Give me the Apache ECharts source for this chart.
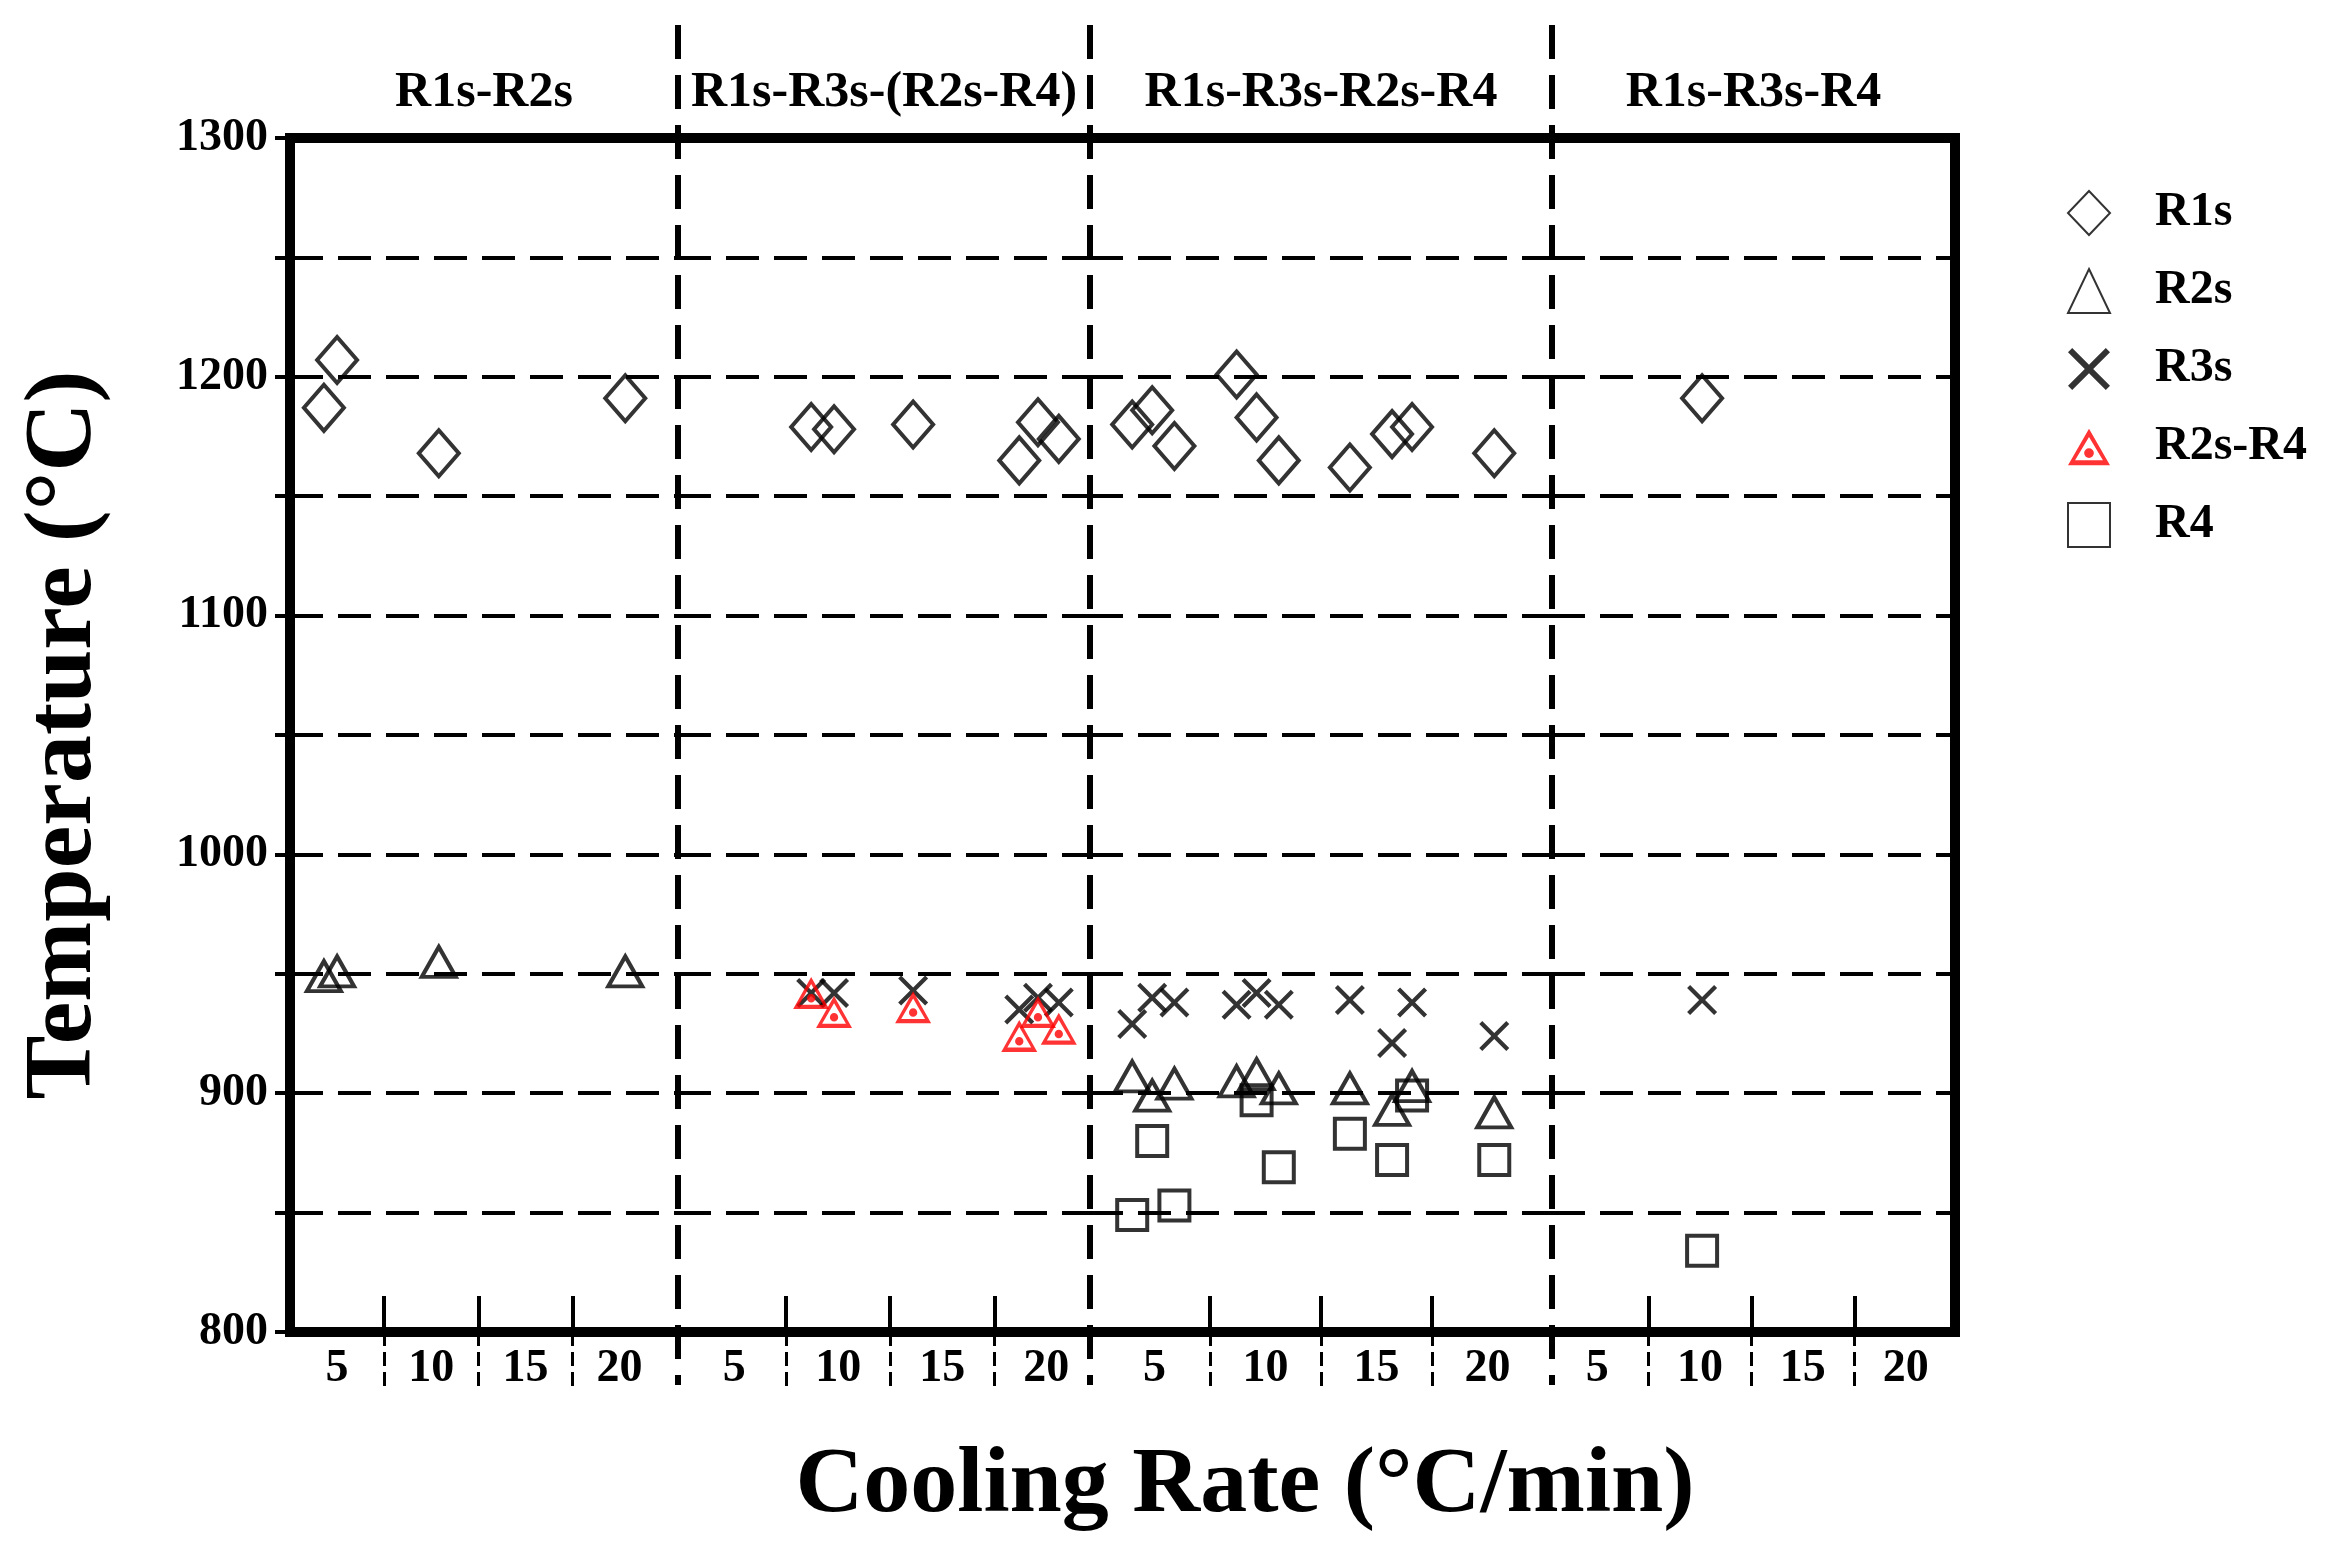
<!DOCTYPE html>
<html><head><meta charset="utf-8">
<script src="https://cdn.jsdelivr.net/npm/echarts@6/dist/echarts.min.js"></script>
<style>html,body{margin:0;padding:0;background:#fff}#c{width:2350px;height:1553px}</style>
</head><body><div id="c"></div>
<script>
// Panel titles and x ranges (cooling rate, °C/min)
const panelTitles = ['R1s-R2s', 'R1s-R3s-(R2s-R4)', 'R1s-R3s-R2s-R4', 'R1s-R3s-R4'];
const panelXMin = [2.5, 2.3, 2.1, 2.8];
const panelXMax = [23.1, 22.1, 22.9, 22.4];
const xLabels = [5, 10, 15, 20];
const xMidTicks = [7.5, 12.5, 17.5];
const yTicks = [800, 900, 1000, 1100, 1200, 1300];

// Data: [panel, coolingRate, temperature]
const R1s = [
  [0,4.3,1187],[0,5.0,1207],[0,10.4,1168],[0,20.3,1191],
  [1,8.7,1179],[1,9.8,1178],[1,13.6,1180],[1,18.7,1165],[1,19.6,1181],[1,20.6,1174],
  [2,4.0,1180],[2,4.9,1186],[2,5.9,1171],[2,8.7,1201],[2,9.6,1183],[2,10.6,1165],[2,13.8,1162],[2,15.7,1176],[2,16.6,1179],[2,20.3,1168],
  [3,10.1,1191]
];
const R2s = [
  [0,4.3,949],[0,5.0,951],[0,10.4,955],[0,20.3,951],
  [2,4.0,907],[2,4.9,899],[2,5.9,904],[2,8.7,905],[2,9.6,908],[2,10.6,902],[2,13.8,902],[2,15.7,893],[2,16.6,903],[2,20.3,892]
];
const R3s = [
  [1,8.7,942],[1,9.8,942],[1,13.6,943],[1,18.7,935],[1,19.6,940],[1,20.6,938],
  [2,4.0,929],[2,4.9,940],[2,5.9,938],[2,8.7,937],[2,9.6,942],[2,10.6,937],[2,13.8,939],[2,15.7,921],[2,16.6,938],[2,20.3,924],
  [3,10.1,939]
];
const R2sR4 = [
  [1,8.7,942],[1,9.8,934],[1,13.6,936],[1,18.7,924],[1,19.6,934],[1,20.6,927]
];
const R4 = [
  [2,4.0,849],[2,4.9,880],[2,5.9,853],[2,9.6,897],[2,10.6,869],[2,13.8,883],[2,15.7,872],[2,16.6,899],[2,20.3,872],
  [3,10.1,834]
];

const L = 290, R = 1955, T = 138, B = 1332;
const seps = [678, 1090, 1552];
const edges = [L, ...seps, R];
const font = 'Liberation Serif, Times New Roman, serif';

const grids = [], xAxes = [], yAxes = [], series = [];
for (let i = 0; i < 4; i++) {
  grids.push({left: edges[i], width: edges[i+1]-edges[i], top: T, height: B-T});
  xAxes.push({type:'value', gridIndex:i, position:'bottom', min:panelXMin[i], max:panelXMax[i],
    axisLine:{show:false}, splitLine:{show:false},
    axisTick:{show:true, inside:true, length:36, customValues:xMidTicks, lineStyle:{color:'#000', width:4}},
    axisLabel:{show:true, customValues:xLabels, color:'#000', fontFamily:font, fontWeight:'bold', fontSize:46, margin:14}});
  xAxes.push({type:'value', gridIndex:i, position:'bottom', min:panelXMin[i], max:panelXMax[i],
    axisLine:{show:false}, splitLine:{show:false}, axisLabel:{show:false},
    axisTick:{show:true, inside:false, length:56, customValues:xMidTicks, lineStyle:{color:'#000', width:3, type:[14,6]}}});
  yAxes.push({type:'value', gridIndex:i, min:800, max:1300, interval:50,
    axisLine:{show:false},
    axisTick:{show:i===0, length:15, lineStyle:{color:'#000', width:4}},
    axisLabel:{show:i===0, color:'#000', fontFamily:font, fontWeight:'bold', fontSize:46, margin:22,
      formatter: v => yTicks.includes(v) ? String(v) : ''},
    splitLine:{show:true, lineStyle:{color:'#000', width:4, type:[33,15]}}});
}

const hollow = {color:'rgba(0,0,0,0)', borderColor:'#000', borderWidth:4};
const crossPath = 'path://M-10,-8 L-8,-10 L0,-2 L8,-10 L10,-8 L2,0 L10,8 L8,10 L0,2 L-8,10 L-10,8 L-2,0 Z';
const redTri = 'path://M0,-10 L9.5,6.5 L-9.5,6.5 Z M0,-6.3 L-6.3,4.3 L6.3,4.3 Z M-2.2,1 A2.2,2.2 0 1,0 2.2,1 A2.2,2.2 0 1,0 -2.2,1 Z';
const defs = [
  {name:'R1s', data:R1s, symbol:'diamond', size:[40,46], style:hollow},
  {name:'R2s', data:R2s, symbol:'triangle', size:[34,30], style:hollow},
  {name:'R3s', data:R3s, symbol:crossPath, size:30, style:{color:'#000'}},
  {name:'R2s-R4', data:R2sR4, symbol:redTri, size:[36,32], style:{color:'#f00'}},
  {name:'R4', data:R4, symbol:'rect', size:30, style:hollow}
];
defs.forEach(d => {
  for (let i = 0; i < 4; i++) {
    series.push({name:d.name, type:'scatter', xAxisIndex:2*i, yAxisIndex:i,
      symbol:d.symbol, symbolSize:d.size, itemStyle:d.style, z:d.name==='R2s-R4'?5:3,
      data: d.data.filter(p => p[0]===i).map(p => [p[1], p[2]])});
  }
});

const graphic = [
  {type:'rect', shape:{x:L, y:T, width:R-L, height:B-T}, style:{fill:'none', stroke:'#000', lineWidth:10}, z:10},
  ...seps.map(x => ({type:'line', shape:{x1:x, y1:25, x2:x, y2:1385}, style:{stroke:'#000', lineWidth:6, lineDash:[34,16]}, z:10})),
  ...panelTitles.map((t, i) => ({type:'text', x:(edges[i]+edges[i+1])/2, y:93,
    style:{text:t, fill:'#000', font:'bold 50px ' + font, textAlign:'center', textVerticalAlign:'middle'}})),
  {type:'text', x:1245, y:1487, style:{text:'Cooling Rate (°C/min)', fill:'#000', font:'bold 94px ' + font, textAlign:'center', textVerticalAlign:'middle'}},
  {type:'text', x:65, y:735, rotation:Math.PI/2, style:{text:'Temperature (°C)', fill:'#000', font:'bold 96px ' + font, textAlign:'center', textVerticalAlign:'middle'}}
];

const chart = echarts.init(document.getElementById('c'));
chart.setOption({
  animation:false,
  grid:grids, xAxis:xAxes, yAxis:yAxes, series:series, graphic:graphic,
  legend:{orient:'vertical', left:2062, top:184, itemGap:30, itemWidth:42, itemHeight:44,
    data:['R1s','R2s','R3s','R2s-R4','R4'],
    textStyle:{color:'#000', fontFamily:font, fontWeight:'bold', fontSize:48, padding:[0,0,0,40]}}
});
</script></body></html>
